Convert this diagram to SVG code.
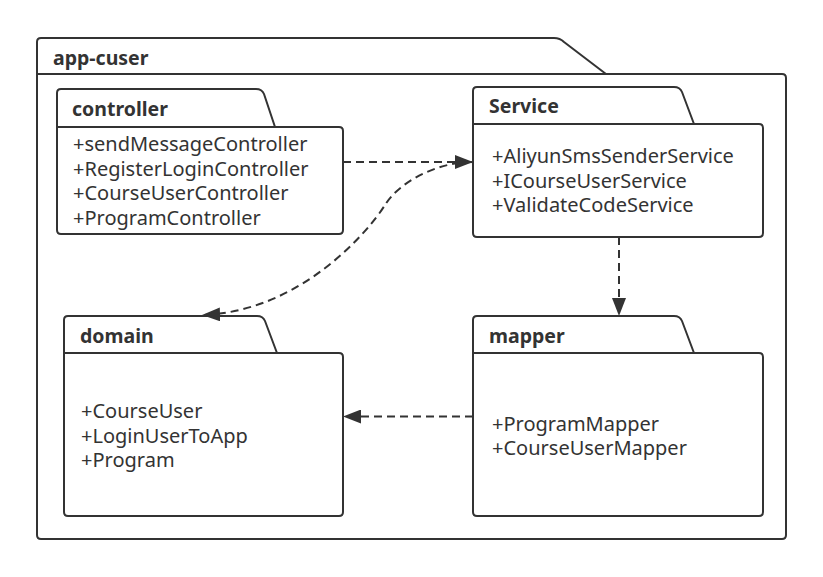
<svg xmlns="http://www.w3.org/2000/svg" width="823" height="577" viewBox="0 0 823 577">
<style>
.pkg{fill:#fff;stroke:#333;stroke-width:2;stroke-linejoin:round}
.title{font-family:"Noto Sans","Liberation Sans",sans-serif;font-weight:bold;font-size:19.5px;fill:#333}
.item{font-family:"Noto Sans","Liberation Sans",sans-serif;font-size:20px;fill:#333}
.edge{fill:none;stroke:#333;stroke-width:2;stroke-dasharray:8 5}
</style>
<defs>
<marker id="arr" viewBox="0 0 18 14" refX="18" refY="7" markerWidth="18" markerHeight="14" markerUnits="userSpaceOnUse" orient="auto">
<path d="M0,0 L18,7 L0,14 Z" fill="#333"/>
</marker>
</defs>
<rect width="823" height="577" fill="#fff"/>
<g id="app-cuser">
<path class="pkg" d="M37,74 H782 Q786,74 786,78 V535 Q786,539 782,539 H41 Q37,539 37,535 V42 Q37,38 41,38 H554 Q560,38 564,42 L606,74"/>
<text class="title" x="53" y="65">app-cuser</text>
</g>
<g id="controller">
<path class="pkg" d="M57,127 H339 Q343,127 343,131 V230 Q343,234 339,234 H61 Q57,234 57,230 V93 Q57,89 61,89 H256 Q262,89 264,94 L275,127"/>
<text class="title" x="72" y="116">controller</text>
<text class="item" x="73" y="151">+sendMessageController</text>
<text class="item" x="73" y="175.5">+RegisterLoginController</text>
<text class="item" x="73" y="200">+CourseUserController</text>
<text class="item" x="73" y="224.5">+ProgramController</text>
</g>
<g id="service">
<path class="pkg" d="M473,124 H759 Q763,124 763,128 V233 Q763,237 759,237 H477 Q473,237 473,233 V91 Q473,87 477,87 H674 Q680,87 682,92 L694,124"/>
<text class="title" x="489" y="113">Service</text>
<text class="item" x="492" y="163">+AliyunSmsSenderService</text>
<text class="item" x="492" y="187.5">+ICourseUserService</text>
<text class="item" x="492" y="212">+ValidateCodeService</text>
</g>
<g id="domain">
<path class="pkg" d="M64,353 H339 Q343,353 343,357 V512 Q343,516 339,516 H68 Q64,516 64,512 V320 Q64,316 68,316 H257 Q263,316 265,321 L277,353"/>
<text class="title" x="80" y="343">domain</text>
<text class="item" x="81" y="418">+CourseUser</text>
<text class="item" x="81" y="442.5">+LoginUserToApp</text>
<text class="item" x="81" y="467">+Program</text>
</g>
<g id="mapper">
<path class="pkg" d="M473,353 H759 Q763,353 763,357 V512 Q763,516 759,516 H477 Q473,516 473,512 V320 Q473,316 477,316 H674 Q680,316 682,321 L694,353"/>
<text class="title" x="489" y="343">mapper</text>
<text class="item" x="492" y="430.5">+ProgramMapper</text>
<text class="item" x="492" y="455">+CourseUserMapper</text>
</g>
<g id="connectors">
<path class="edge" d="M343,162 H473" marker-end="url(#arr)"/>
<path class="edge" d="M473,162 C435,162 398,183.5 385,205 C368,232 300,312 202,315" marker-end="url(#arr)"/>
<path class="edge" d="M619,237 V316" marker-end="url(#arr)"/>
<path class="edge" d="M473,416.5 H343" marker-end="url(#arr)"/>
</g>
</svg>
